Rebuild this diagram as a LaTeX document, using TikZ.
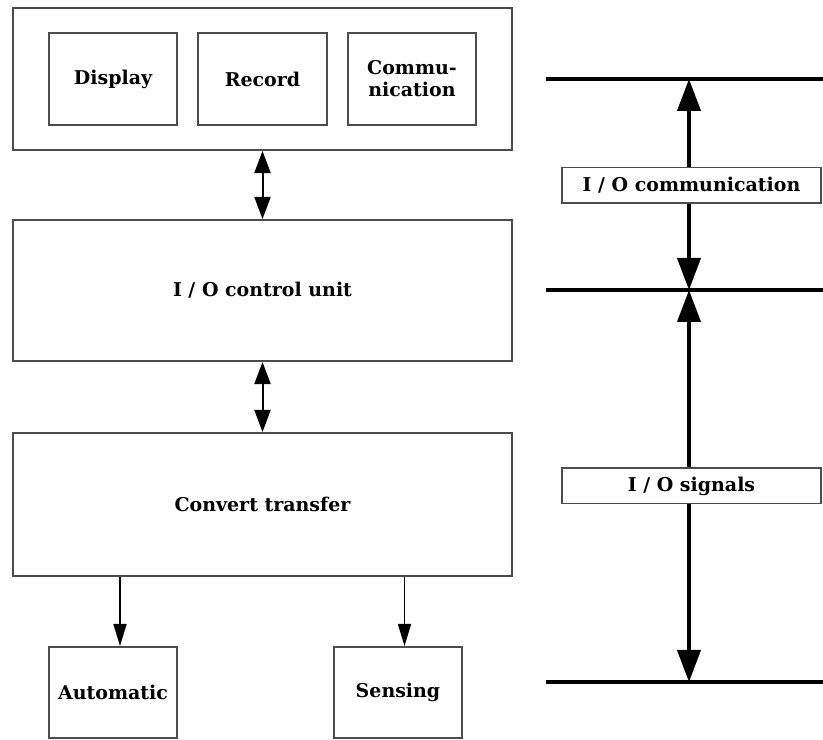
\documentclass[tikz,border=0pt]{standalone}
\usepackage{fontspec}
\setmainfont{DejaVu Serif}
\usetikzlibrary{arrows.meta}

\begin{document}
\begin{tikzpicture}[x=0.2mm,y=-0.2mm]
		\tikzstyle{every node}+=[inner sep=0pt,font=\bfseries\fontsize{10.8}{12.5}\selectfont]
		\tikzstyle{box}=[draw=black!70,line width=0.4mm,fill=white,align=center]
		\tikzstyle{wide}=[box,minimum width=99.8mm,minimum height=28.4mm]
		\tikzstyle{small}=[box,minimum width=25.6mm,minimum height=18.4mm]
		\tikzstyle{tag}=[box,line width=0.3mm,minimum width=51.8mm,minimum height=7.1mm]
		\tikzstyle{dbl}=[line width=0.4mm,{Triangle[length=4.4mm,width=3.2mm]}-{Triangle[length=4.4mm,width=3.2mm]}]
		\tikzstyle{arr}=[line width=0.35mm,-{Triangle[length=4.4mm,width=2.6mm]}]
		\tikzstyle{big}=[line width=0.8mm,{Triangle[length=6.4mm,width=4.6mm]}-{Triangle[length=6.4mm,width=4.6mm]}]
		\tikzstyle{bus}=[line width=0.8mm]
		\useasboundingbox (0,0) rectangle (823,740);
		\node [wide] (panel) at (262.5,79) {};
		\node [small] (display) at (113,79) {Display};
		\node [small] (record) at (262.5,79) {Record};
		\node [small] (comm) at (412,79) {Commu-\\nication};
		\node [wide,minimum height=28.2mm] (ctrl) at (262.5,290.5) {I / O control unit};
		\node [wide,minimum height=28.6mm] (conv) at (262.5,504.5) {Convert transfer};
		\node [small,minimum height=18.2mm] (auto) at (113,692.5) {Automatic};
		\node [small,minimum height=18.2mm] (sense) at (398,692.5) {Sensing};
		\draw [dbl] (panel) -- (ctrl);
		\draw [dbl] (ctrl) -- (conv);
		\draw [arr] ([xshift=1.4mm]auto.north |- conv.south) -- ([xshift=1.4mm]auto.north);
		\draw [arr] ([xshift=1.3mm]sense.north |- conv.south) -- ([xshift=1.3mm]sense.north);
		\coordinate (b1) at (546,79);
		\coordinate (b2) at (546,290);
		\coordinate (b3) at (546,682);
		\coordinate (t1) at (689,79);
		\coordinate (t2) at (689,290);
		\coordinate (t3) at (689,682);
		\draw [bus] (b1) -- +(277,0);
		\draw [bus] (b2) -- +(277,0);
		\draw [bus] (b3) -- +(277,0);
		\draw [big] (t1) -- (t2);
		\draw [big] (t2) -- (t3);
		\node [tag] (iocomm) at (691.5,185.5) {I / O communication};
		\node [tag] (iosig) at (691.5,486) {I / O signals};
	\end{tikzpicture}
\end{document}
